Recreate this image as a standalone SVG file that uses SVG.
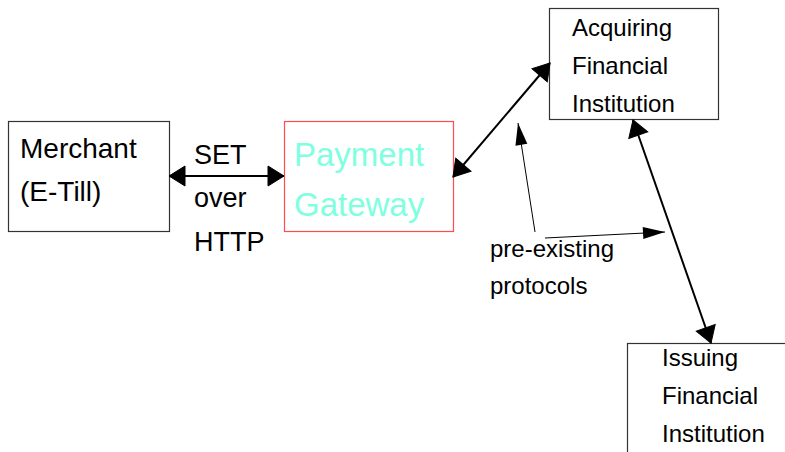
<svg xmlns="http://www.w3.org/2000/svg" width="785" height="452" viewBox="0 0 785 452">
<defs>
<style>
.box{fill:#fff;stroke:#333;stroke-width:1.2}
.t{font-family:"Liberation Sans",Arial,sans-serif;fill:#000}
.conn{stroke:#000;stroke-width:2;fill:none}
.thin{stroke:#000;stroke-width:1;fill:none}
</style>
<marker id="ah" markerUnits="userSpaceOnUse" markerWidth="18" markerHeight="22" refX="16" refY="10" orient="auto-start-reverse" viewBox="-1 -1 18 22">
<path d="M0,0 L16,10 L0,20 z" fill="#000" stroke="#000" stroke-width="1"/>
</marker>
<marker id="ahs" markerUnits="userSpaceOnUse" markerWidth="24" markerHeight="14" refX="22" refY="6" orient="auto" viewBox="-1 -1 24 14">
<path d="M0,0 L22,6 L0,12 z" fill="#000"/>
</marker>
</defs>
<g id="merchant">
<rect class="box" x="8.5" y="121.5" width="161" height="110"/>
<text class="t" font-size="28" x="20" y="158">Merchant</text>
<text class="t" font-size="28" x="20" y="201">(E-Till)</text>
</g>
<g id="gateway">
<rect x="284.5" y="121.5" width="169" height="110" fill="#fff" stroke="#ff4d4d" stroke-width="1.2"/>
<text class="t" font-size="33" x="294" y="166" style="fill:#80ffe0">Payment</text>
<text class="t" font-size="33" x="294" y="216" style="fill:#80ffe0">Gateway</text>
</g>
<g id="acquiring">
<rect class="box" x="549.5" y="8.5" width="169" height="111"/>
<text class="t" font-size="24" x="572" y="36">Acquiring</text>
<text class="t" font-size="24" x="572" y="74">Financial</text>
<text class="t" font-size="24" x="572" y="112">Institution</text>
</g>
<g id="issuing">
<rect class="box" x="627.5" y="343.5" width="170" height="120"/>
<text class="t" font-size="24" x="662" y="366">Issuing</text>
<text class="t" font-size="24" x="662" y="404">Financial</text>
<text class="t" font-size="24" x="662" y="442">Institution</text>
</g>
<g id="labels">
<text class="t" font-size="27" x="194" y="164">SET</text>
<text class="t" font-size="27" x="194" y="207">over</text>
<text class="t" font-size="27" x="194" y="251">HTTP</text>
<text class="t" font-size="24" x="490" y="257">pre-existing</text>
<text class="t" font-size="24" x="490" y="294">protocols</text>
</g>
<g id="connectors">
<line class="conn" x1="169" y1="176" x2="284" y2="176" marker-start="url(#ah)" marker-end="url(#ah)"/>
<line class="conn" x1="453" y1="177" x2="550" y2="63" marker-start="url(#ah)" marker-end="url(#ah)"/>
<line class="conn" x1="633" y1="120" x2="711" y2="343" marker-start="url(#ah)" marker-end="url(#ah)"/>
<line class="thin" x1="535" y1="232" x2="518" y2="123" marker-end="url(#ahs)"/>
<line class="thin" x1="545" y1="238" x2="665" y2="232" marker-end="url(#ahs)"/>
</g>
</svg>
